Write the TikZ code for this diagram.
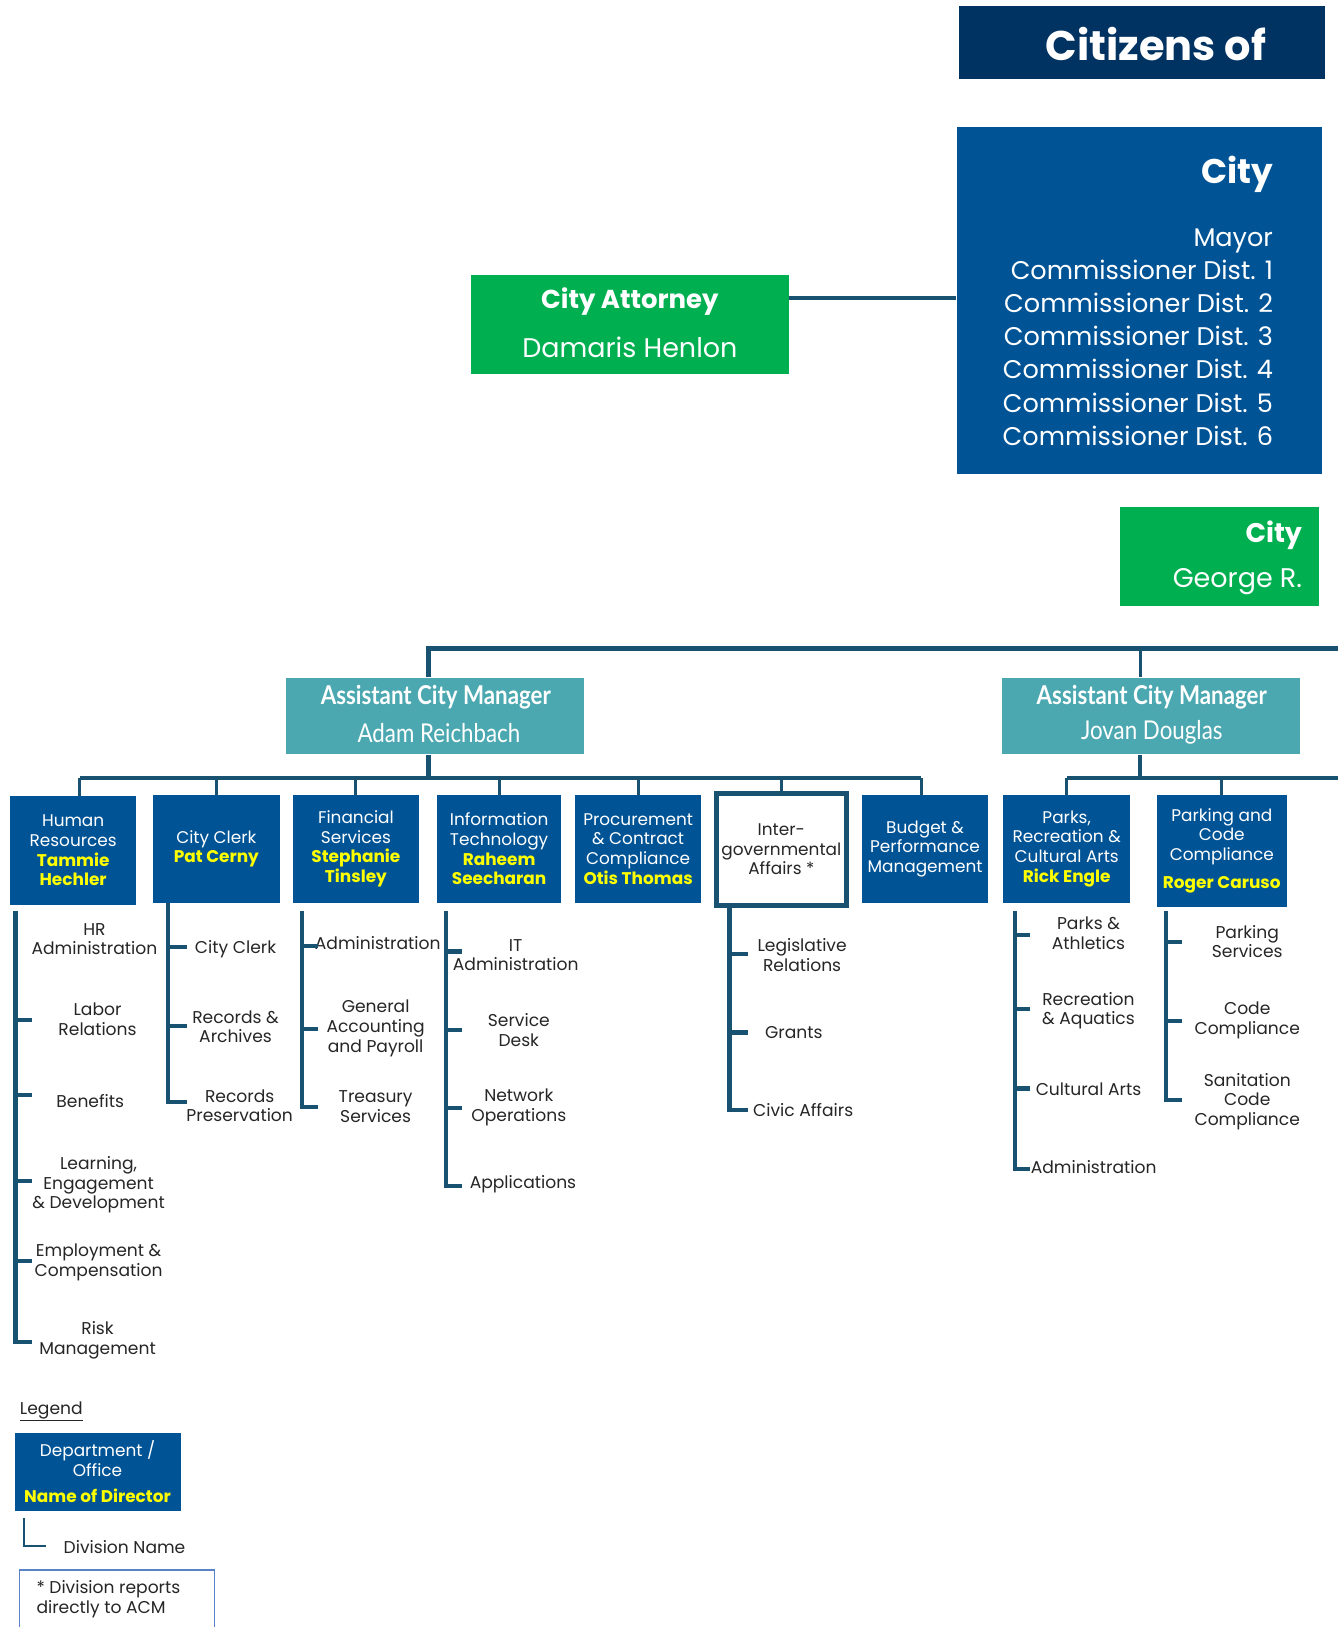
\documentclass[tikz,border=0pt]{standalone}
\usepackage{fontspec}
\setmainfont{Poppins}
\newfontfamily\condfont[FakeStretch=0.86]{Lato}
\definecolor{navy}{RGB}{0,50,98}
\definecolor{deptblue}{RGB}{0,84,150}
\definecolor{grn}{RGB}{0,176,80}
\definecolor{teal}{RGB}{75,168,176}
\definecolor{linec}{RGB}{24,82,112}
\definecolor{dirylw}{RGB}{255,255,0}
\definecolor{darktxt}{RGB}{38,38,38}
\definecolor{fnblue}{RGB}{90,130,200}
\newcommand\fs[2]{\fontsize{#1}{#2}\selectfont}
\newcommand\dn[1]{{\bfseries\color{dirylw}#1}}
\tikzset{
  conn/.style={draw=linec, line width=4pt},
  drop/.style={draw=linec, line width=3pt},
  brk/.style={draw=linec, line width=4pt},
  dept/.style={fill=deptblue, text=white, align=center, inner sep=0pt, font=\fs{16.3}{19}},
  acm/.style={fill=teal, text=white, align=center, inner sep=0pt, minimum width=287pt, minimum height=74pt},
  divt/.style={text=darktxt, align=center, inner sep=0pt, font=\fs{16.5}{19}},
  rtxt/.style={text=white, anchor=east, inner sep=0pt}
}
\begin{document}
\begin{tikzpicture}[x=1pt,y=-1pt]
\useasboundingbox[fill=white] (0,0) rectangle (1289,1568);

% ---------- top ----------
\node[fill=navy, minimum width=353pt, minimum height=70pt, inner sep=0pt] (citz) at (1100.5,41) {};
\node[text=white, inner sep=0pt, font=\bfseries\fs{40}{44}] (citzt) at (1114,42) {Citizens of};

\node[fill=deptblue, minimum width=352pt, minimum height=335pt, inner sep=0pt] (council) at (1098,289.5) {};
\node[rtxt, font=\bfseries\fs{33}{36}] (ctitle) at (1227,168) {City};
\node[rtxt, align=right, font=\fs{24.6}{32}, anchor=north east] (cmembers) at (1227,220) {Mayor\\Commissioner Dist. 1\\Commissioner Dist. 2\\Commissioner Dist. 3\\Commissioner Dist. 4\\Commissioner Dist. 5\\Commissioner Dist. 6};

\node[fill=grn, minimum width=306pt, minimum height=95pt, inner sep=0pt] (atty) at (607,312.5) {};
\node[text=white, inner sep=0pt, font=\bfseries\fs{25}{30}] (attyt) at (607,291) {City Attorney};
\node[text=white, inner sep=0pt, font=\fs{26}{30}] (attyn) at (607,335) {Damaris Henlon};
\draw[conn] (atty.east |- 0,287) -- (council.west |- 0,287);

\node[fill=grn, minimum width=192pt, minimum height=95pt, inner sep=0pt] (cm) at (1175,536.5) {};
\node[rtxt, font=\bfseries\fs{26}{30}] (cmt) at (1255,516) {City};
\node[rtxt, font=\fs{26}{30}] (cmn) at (1255,561) {George R.};

% ---------- ACMs ----------
\node[acm] (acmL) at (419.5,690) {};
\node[text=white, inner sep=0pt, font=\condfont\bfseries\fs{25}{28}] (acmLt) at (420,672) {Assistant City Manager};
\node[text=white, inner sep=0pt, font=\condfont\fs{25}{28}] (acmLn) at (423,706) {Adam Reichbach};
\node[acm] (acmR) at (1109.5,690) {};
\node[text=white, inner sep=0pt, font=\condfont\bfseries\fs{25}{28}] (acmRt) at (1110,672) {Assistant City Manager};
\node[text=white, inner sep=0pt, font=\condfont\fs{25}{28}] (acmRn) at (1110,706) {Jovan Douglas};

\coordinate (topL) at (413,625);
\coordinate (topR) at (1099,625);
\coordinate (topEnd) at (1289,625);
\draw[draw=linec, line width=5pt] (topL |- acmL.north) -- (topL) -- (topEnd);
\draw[drop] (topR) -- (topR |- acmR.north);

% ---------- departments ----------
\node[dept, minimum width=121pt, minimum height=105pt] (hr) at (70.5,819.5) {Human\\Resources\\\dn{Tammie}\\\dn{Hechler}};
\node[dept, minimum width=123pt, minimum height=104pt] (clerk) at (208.5,818) {City Clerk\\\dn{Pat Cerny}};
\node[dept, minimum width=122pt, minimum height=104pt] (fin) at (343,818) {Financial\\Services\\\dn{Stephanie}\\\dn{Tinsley}};
\node[dept, minimum width=120pt, minimum height=104pt] (it) at (481,818) {Information\\Technology\\\dn{Raheem}\\\dn{Seecharan}};
\node[dept, minimum width=122pt, minimum height=104pt] (proc) at (615,818) {Procurement\\\& Contract\\Compliance\\\dn{Otis Thomas}};
\node[draw=linec, line width=5pt, fill=white, text=darktxt, align=center, inner sep=0pt, font=\fs{16.3}{19}, minimum width=125pt, minimum height=108pt] (igov) at (753,818.5) {Inter-\\governmental\\Affairs *};
\node[dept, minimum width=121pt, minimum height=104pt] (bud) at (891.5,818) {Budget \&\\Performance\\Management};
\node[dept, minimum width=122pt, minimum height=104pt] (parks) at (1028,818) {Parks,\\Recreation \&\\Cultural Arts\\\dn{Rick Engle}};
\node[dept, minimum width=125pt, minimum height=108pt] (park) at (1177.5,820) {Parking and\\Code\\Compliance\\[8pt]\dn{Roger Caruso}};

% left bus
\coordinate (busL) at (413,750);
\coordinate (hrdrop) at ([xshift=6.5pt]hr.north);
\coordinate (buddrop) at ([xshift=-3.5pt]bud.north);
\draw[conn] (topL |- acmL.south) -- (busL);
\draw[conn] (hrdrop |- busL) -- (buddrop |- busL);
\draw[drop] (hrdrop |- busL) -- (hrdrop);
\draw[drop] (buddrop |- busL) -- (buddrop);
\foreach \n in {clerk,fin,it,proc,igov}{
  \draw[drop] (\n.north |- busL) -- (\n.north);
}
% right bus
\coordinate (busR) at (1099,750);
\coordinate (busRend) at (1289,750);
\draw[conn] (topR |- acmR.south) -- (busR);
\draw[conn] (parks.north |- busR) -- (busRend);
\foreach \n in {parks,park}{
  \draw[drop] (\n.north |- busR) -- (\n.north);
}

% ---------- divisions ----------
% HR
\node[divt] (hr1) at (91,905) {HR\\Administration};
\node[divt] (hr2) at (94,982.5) {Labor\\Relations};
\node[divt] (hr3) at (87,1061) {Benefits};
\node[divt] (hr4) at (95,1142) {Learning,\\Engagement\\\& Development};
\node[divt] (hr5) at (95,1216.5) {Employment \&\\Compensation};
\node[divt] (hr6) at (94,1291.5) {Risk\\Management};
\draw[brk] (15,878) -- (15,1293) -- (31,1293);
\foreach \y in {983,1055,1138,1215}{\draw[brk] (15,\y) -- (31,\y);}

% Clerk
\node[divt] (cl1) at (227,915) {City Clerk};
\node[divt] (cl2) at (227,989.5) {Records \&\\Archives};
\node[divt] (cl3) at (231,1065.5) {Records\\Preservation};
\draw[brk] (162,870) -- (162,1062) -- (180,1062);
\foreach \y in {913,989}{\draw[brk] (162,\y) -- (180,\y);}

% Financial
\node[divt] (fi1) at (364,909) {Administration};
\node[divt] (fi2) at (362,991) {General\\Accounting\\and Payroll};
\node[divt] (fi3) at (362,1066.5) {Treasury\\Services};
\draw[brk] (291,878) -- (291,1067) -- (306,1067);
\foreach \y in {912,992}{\draw[brk] (291,\y) -- (306,\y);}

% IT
\node[divt] (it1) at (497,920.5) {IT\\Administration};
\node[divt] (it2) at (500,992.5) {Service\\Desk};
\node[divt] (it3) at (500,1067.5) {Network\\Operations};
\node[divt] (it4) at (504,1141) {Applications};
\draw[brk] (430,878) -- (430,1143) -- (445,1143);
\foreach \y in {917,993,1068}{\draw[brk] (430,\y) -- (445,\y);}

% Intergov
\node[divt] (ig1) at (773,920.5) {Legislative\\Relations};
\node[divt] (ig2) at (765,995) {Grants};
\node[divt] (ig3) at (774,1070) {Civic Affairs};
\draw[brk] (703,875) -- (703,1070) -- (721,1070);
\foreach \y in {919,995}{\draw[brk] (703,\y) -- (721,\y);}

% Parks
\node[divt] (pa1) at (1049,899.5) {Parks \&\\Athletics};
\node[divt] (pa2) at (1049,974) {Recreation\\\& Aquatics};
\node[divt] (pa3) at (1049,1050) {Cultural Arts};
\node[divt] (pa4) at (1054,1125) {Administration};
\draw[brk] (978,878) -- (978,1127) -- (993,1127);
\foreach \y in {901,972,1049}{\draw[brk] (978,\y) -- (993,\y);}

% Parking
\node[divt] (pk1) at (1202,907.5) {Parking\\Services};
\node[divt] (pk2) at (1202,983.5) {Code\\Compliance};
\node[divt] (pk3) at (1202,1061.5) {Sanitation\\Code\\Compliance};
\draw[brk] (1124,878) -- (1124,1060) -- (1139,1060);
\foreach \y in {908,984}{\draw[brk] (1124,\y) -- (1139,\y);}

% ---------- legend ----------
\node[divt, anchor=west] (leg) at (19,1360) {\underline{Legend}};
\node[dept, minimum width=160pt, minimum height=75pt] (legbox) at (94,1418.5) {Department /\\Office\\[6pt]\dn{Name of Director}};
\node[divt] (legdiv) at (120,1491) {Division Name};
\draw[draw=linec, line width=1.3pt] (23,1463) -- (23,1490) -- (44,1490);
\draw[draw=fnblue, line width=1.3pt] (19,1570) -- (19,1513) -- (207,1513) -- (207,1570);
\node[divt, anchor=north west, align=left] (fn) at (35,1523) {* Division reports\\directly to ACM};
\end{tikzpicture}
\end{document}
